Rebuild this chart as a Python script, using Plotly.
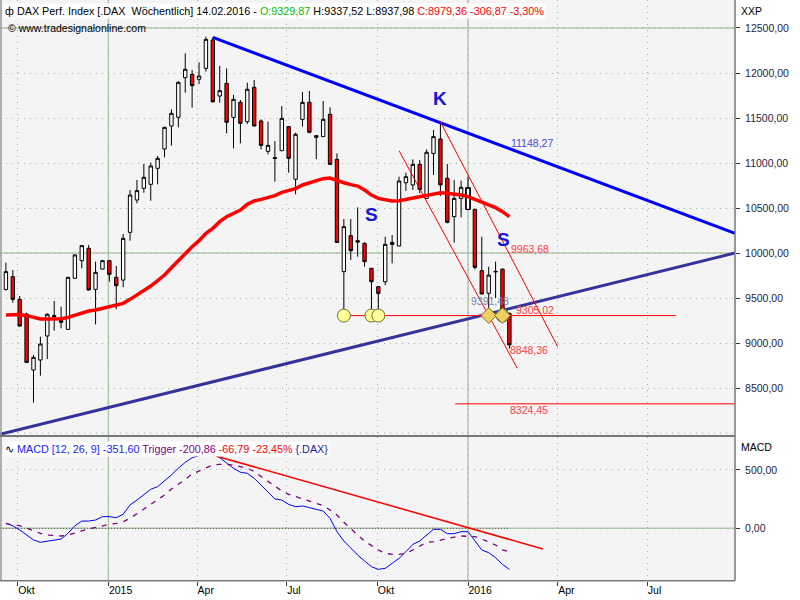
import plotly.graph_objects as go
import pandas as pd

# ---------------- data ----------------
dates = pd.date_range("2014-09-19", periods=74, freq="W-FRI")

open_ = [9596, 9737, 9485, 9322, 8700, 8811, 9078, 9305, 9249, 9152,
         9719, 9915, 10052, 9596, 9822, 9915, 9730, 9700, 10230, 10589,
         10719, 10763, 10941, 11156, 11411, 11508, 11948, 11985, 11930, 12052,
         12367, 11744, 11885, 11507, 11674, 11459, 11841, 11467, 11130, 11060,
         11137, 11404, 10819, 11485, 11674, 11285, 11293, 11541, 11041, 9793,
         10193, 10137, 10107, 9830, 9626, 9681, 10118, 10078, 10781, 10756,
         10985, 10607, 11107, 11267, 10830, 10404, 10607, 10485, 10485, 9804,
         9552, 9796, 9822, 9329.87]
high = [9893, 9811, 9522, 9337, 8867, 9070, 9330, 9467, 9404, 9735,
        9989, 10089, 10089, 9904, 9922, 9920, 9856, 10211, 10700, 10811,
        10989, 11004, 11078, 11404, 11596, 11911, 12218, 12033, 12119, 12404,
        12396, 12078, 12052, 11756, 11700, 11893, 11922, 11485, 11459, 11244,
        11633, 11410, 11337, 11789, 11800, 11306, 11689, 11618, 11107, 10378,
        10378, 10507, 10120, 9835, 9630, 10181, 10200, 10848, 10893, 11041,
        11033, 11152, 11367, 11441, 10989, 10811, 10804, 10848, 10490, 10181,
        9848, 9904, 9822, 9337.52]
low = [9582, 9448, 9181, 8780, 8337, 8637, 8822, 9137, 9163, 9148,
       9715, 9830, 9585, 9207, 9818, 9682, 9374, 9619, 10137, 10552,
       10670, 10581, 10763, 11063, 11193, 11396, 11781, 11615, 11878, 12015,
       11670, 11670, 11330, 11163, 11219, 11433, 11405, 11152, 11096, 10793,
       11135, 10893, 10652, 11404, 11330, 11044, 11290, 10980, 10115, 9330,
       9922, 9959, 9848, 9367, 9330, 9644, 9885, 10075, 10689, 10700,
       10663, 10600, 10867, 10633, 10330, 10115, 10396, 10480, 9818, 9540,
       9330, 9500, 9274, 8937.98]
close = [9793, 9485, 9189, 8785, 8841, 8989, 9319, 9294, 9230, 9730,
         9978, 10082, 9589, 9785, 9915, 9763, 9637, 10163, 10644, 10693,
         10841, 10967, 11052, 11396, 11552, 11896, 12041, 11859, 11967, 12374,
         11681, 11804, 11452, 11707, 11441, 11819, 11411, 11196, 11196, 11050,
         11496, 11052, 11319, 11674, 11341, 11304, 11485, 10985, 10118, 10293,
         10026, 10122, 9904, 9681, 9552, 10096, 10096, 10800, 10848, 10985,
         10707, 11119, 11293, 10756, 10341, 10607, 10730, 10726, 9841, 9545,
         9755, 9792, 9367, 8979.36]
highlight_index = 67

ma_values = [9311, 9318, 9318, 9304, 9285, 9267, 9267, 9267, 9270, 9285,
             9311, 9337, 9356, 9367, 9385, 9404, 9419, 9441, 9485, 9533,
             9582, 9633, 9693, 9756, 9837, 9915, 9996, 10070, 10137, 10219,
             10274, 10348, 10404, 10441, 10478, 10541, 10578, 10596, 10615, 10637,
             10674, 10693, 10715, 10756, 10781, 10804, 10826, 10833, 10804, 10781,
             10760, 10744, 10700, 10644, 10607, 10589, 10578, 10581, 10596, 10607,
             10619, 10633, 10656, 10670, 10663, 10656, 10644, 10626, 10596, 10559,
             10533, 10504, 10459, 10404]

macd = [42, 22, -15, -58, -100, -120, -109, -100, -92, -43,
        22, 62, 62, 71, 100, 100, 91, 120, 200, 242,
        285, 334, 357, 405, 457, 514, 565, 605, 622, 651,
        634, 605, 557, 514, 480, 471, 428, 371, 308, 251,
        242, 205, 185, 191, 177, 165, 148, 85, -29, -109,
        -172, -229, -280, -329, -352, -343, -300, -258, -200, -138,
        -109, -58, -9, -9, -46, -46, -29, -29, -109, -186,
        -209, -252, -309, -351.60]
trigger = [42, 28, 22, 0, -23, -43, -58, -63, -66, -58,
           -43, -23, -6, 8, 22, 34, 42, 57, 85, 122,
           165, 205, 248, 285, 337, 377, 419, 465, 491, 514,
           542, 548, 548, 542, 528, 514, 485, 442, 405, 357,
           320, 291, 271, 251, 228, 214, 194, 157, 114, 51,
           -6, -58, -109, -149, -186, -215, -223, -223, -215, -186,
           -152, -120, -115, -100, -86, -75, -66, -66, -72, -92,
           -115, -143, -186, -200.86]

# trend lines (date, value endpoints)
resist_dates = ["2015-04-17", "2016-09-28"]
resist_values = [12396, 10219]
support_dates = ["2014-09-13", "2016-09-28"]
support_values = [7986, 10000]
chan_up_dates = ["2015-12-04", "2016-04-01"]
chan_up_values = [11456, 8959]
chan_lo_dates = ["2015-10-23", "2016-02-20"]
chan_lo_values = [11137, 8719]
level_9305_dates = ["2015-08-28", "2016-07-30"]
level_9305 = 9305.02
level_8324_dates = ["2015-12-19", "2016-09-28"]
level_8324 = 8324.45
macd_trend_dates = ["2015-04-20", "2016-03-17"]
macd_trend_values = [620, -177]

circle_dates = ["2015-08-28", "2015-09-25", "2015-10-02", "2016-02-05"]
diamond_dates = ["2016-01-22", "2016-02-05"]

price_ticks = [8500, 9000, 9500, 10000, 10500, 11000, 11500, 12000, 12500]
price_ticktext = ["8500,00", "9000,00", "9500,00", "10000,00", "10500,00",
                  "11000,00", "11500,00", "12000,00", "12500,00"]
macd_ticks = [0, 500]
macd_ticktext = ["0,00", "500,00"]
month_ticks = ["2014-10-01", "2015-01-01", "2015-04-01", "2015-07-01",
               "2015-10-01", "2016-01-01", "2016-04-01", "2016-07-01"]
month_labels = ["Okt", "2015", "Apr", "Jul", "Okt", "2016", "Apr", "Jul"]
year_lines = ["2015-01-01", "2016-01-01"]

x_range = ["2014-09-13", "2016-09-28"]
y_range = [7956, 12811]
macd_range = [-449, 782]

# ---------------- figure ----------------
W, H = 800, 600
px_x = lambda p: p / W
px_y = lambda p: 1 - p / H
XR = 735 / W
MAIN = [px_y(437), 1]
SUB = [px_y(580.7), px_y(437)]
FONT = "Liberation Sans, Arial, sans-serif"
GRID = "#9db39d"
SOLID = "#b3c9ab"
WEEK_MS = 7 * 24 * 3600 * 1000

fig = go.Figure()

fig.add_trace(go.Candlestick(
    x=dates, open=open_, high=high, low=low, close=close,
    xaxis="x", yaxis="y", whiskerwidth=0, showlegend=False, hoverinfo="skip",
    increasing=dict(line=dict(color="black", width=1), fillcolor="white"),
    decreasing=dict(line=dict(color="black", width=1), fillcolor="#ff0000")))

# highlighted (yellow) candle body
i = highlight_index
fig.add_trace(go.Bar(
    x=[dates[i]], base=[min(open_[i], close[i])], y=[abs(close[i] - open_[i])],
    width=[WEEK_MS * 0.7], xaxis="x", yaxis="y", showlegend=False, hoverinfo="skip",
    marker=dict(color="#f7ec80", line=dict(color="black", width=1))))

fig.add_trace(go.Scatter(x=dates, y=ma_values, mode="lines", xaxis="x", yaxis="y",
                         line=dict(color="#ff0000", width=3.5), showlegend=False))

def line(xs, ys, color, width, yaxis="y", dash="solid"):
    fig.add_trace(go.Scatter(x=xs, y=ys, mode="lines", xaxis="x" if yaxis == "y" else "x2",
                             yaxis=yaxis, line=dict(color=color, width=width, dash=dash),
                             showlegend=False, hoverinfo="skip"))

line(resist_dates, resist_values, "#0000ff", 3)
line(support_dates, support_values, "#33339a", 3)
line(chan_up_dates, chan_up_values, "#ff0000", 1)
line(chan_lo_dates, chan_lo_values, "#ff0000", 1)
line(level_9305_dates, [level_9305] * 2, "#ff0000", 1)
line(level_8324_dates, [level_8324] * 2, "#ff0000", 1)

fig.add_trace(go.Scatter(x=circle_dates, y=[level_9305] * len(circle_dates), mode="markers",
                         xaxis="x", yaxis="y", showlegend=False,
                         marker=dict(symbol="circle", size=13, color="#ffff99",
                                     line=dict(color="#707030", width=1))))
fig.add_trace(go.Scatter(x=diamond_dates, y=[level_9305] * len(diamond_dates), mode="markers",
                         xaxis="x", yaxis="y", showlegend=False,
                         marker=dict(symbol="diamond", size=12, color="#f0d060",
                                     line=dict(color="#807030", width=1))))

# MACD panel
line([x_range[0], dates[-1]], [0, 0], "#555555", 1, yaxis="y2", dash="1px,2px")
fig.add_trace(go.Scatter(x=dates, y=macd, mode="lines", xaxis="x2", yaxis="y2",
                         line=dict(color="#0000ff", width=1), showlegend=False))
fig.add_trace(go.Scatter(x=dates, y=trigger, mode="lines", xaxis="x2", yaxis="y2",
                         line=dict(color="#800080", width=1.3, dash="5px,6px"), showlegend=False))
line(macd_trend_dates, macd_trend_values, "#ff0000", 1.5, yaxis="y2")

shapes = []
# solid grid lines
for d in year_lines:
    shapes.append(dict(type="line", xref="x", yref="paper", x0=d, x1=d, y0=SUB[0], y1=1,
                       line=dict(color=SOLID, width=1.5), layer="below"))
for v in [10000, 12500]:
    shapes.append(dict(type="line", xref="paper", yref="y", x0=0, x1=XR, y0=v, y1=v,
                       line=dict(color=SOLID, width=1.5), layer="below"))
shapes.append(dict(type="line", xref="paper", yref="y", x0=0, x1=XR, y0=8000, y1=8000,
                   line=dict(color=GRID, width=1, dash="1px,5px"), layer="below"))
shapes.append(dict(type="line", xref="paper", yref="y2", x0=0, x1=XR, y0=0, y1=0,
                   line=dict(color=SOLID, width=1.5), layer="below"))
# borders
border = "#777777"
shapes.append(dict(type="line", xref="paper", yref="paper", x0=px_x(1), x1=px_x(1), y0=SUB[0], y1=1,
                   line=dict(color="#999999", width=1.5)))
shapes.append(dict(type="line", xref="paper", yref="paper", x0=0, x1=XR, y0=px_y(436), y1=px_y(436),
                   line=dict(color=border, width=2)))
shapes.append(dict(type="line", xref="paper", yref="paper", x0=0, x1=XR, y0=SUB[0], y1=SUB[0],
                   line=dict(color=border, width=1.5)))
shapes.append(dict(type="line", xref="paper", yref="paper", x0=XR, x1=XR, y0=SUB[0], y1=1,
                   line=dict(color=border, width=1.5)))

ann = []
def text(x, y, t, color="black", size=10.5, anchor="left", bold=False, bg=None):
    d = dict(x=px_x(x), y=px_y(y), xref="paper", yref="paper", text=("<b>%s</b>" % t) if bold else t,
             showarrow=False, xanchor=anchor, yanchor="middle",
             font=dict(family=FONT, size=size, color=color))
    if bg:
        d["bgcolor"] = bg
        d["borderpad"] = 1
    ann.append(d)

title = ('ф DAX Perf. Index [.DAX  Wöchentlich] 14.02.2016 - '
         '<span style="color:#00c000">O:9329,87</span> H:9337,52 L:8937,98 '
         '<span style="color:#ff0000">C:8979,36 -306,87 -3,30%</span>')
text(3, 11, title, bg="white", size=10.8)
text(6, 28, "© www.tradesignalonline.com", size=10.5)
macd_title = ('∿ <span style="color:#1a1aff">MACD [12, 26, 9] -351,60</span> '
              '<span style="color:#800080">Trigger -200,86</span> '
              '<span style="color:#ff0000">-66,79 -23,45%</span> '
              '<span style="color:#1a1a9a">{.DAX}</span>')
text(3, 449, macd_title, bg="white", size=10.8)
text(739, 11, "XXP")
text(739, 447, "MACD")

text(440, 98, "K", color="#1515d5", size=19, anchor="center", bold=True)
text(371, 214, "S", color="#1515d5", size=19, anchor="center", bold=True)
text(503, 239, "S", color="#1515d5", size=19, anchor="center", bold=True)

text(509, 143, "11148,27", color="#4a4ad0")
text(509, 249, "9963,68", color="#ff4040")
text(469, 301, "9391,48", color="#7585b8")
text(514, 310, "9305,02", color="#ff4040")
text(508, 350, "8848,36", color="#ff4040")
text(508, 410, "8324,45", color="#ff4040")

axis_common = dict(type="date", range=x_range, tickvals=month_ticks, showgrid=True,
                   gridcolor=GRID, griddash="1px,5px", gridwidth=1, zeroline=False,
                   showline=False, domain=[0, XR], fixedrange=True)

fig.update_layout(
    width=W, height=H, margin=dict(l=0, r=0, t=0, b=0),
    paper_bgcolor="white", plot_bgcolor="#f4f4f4",
    font=dict(family=FONT, size=10.5, color="black"),
    showlegend=False, shapes=shapes, annotations=ann, barmode="overlay",
    xaxis=dict(**axis_common, anchor="y", showticklabels=False, ticks="",
               rangeslider=dict(visible=False)),
    xaxis2=dict(**axis_common, anchor="y2", matches="x", ticktext=month_labels,
                showticklabels=True, ticks="outside", ticklen=4, tickcolor="#333333",
                ticklabelposition="outside right", tickfont=dict(size=10.5, color="black")),
    yaxis=dict(domain=MAIN, anchor="x", side="right", range=y_range, tickvals=price_ticks,
               ticktext=price_ticktext, ticks="outside", ticklen=4, tickcolor="#333333",
               ticklabelstandoff=3,
               showgrid=True, gridcolor=GRID, griddash="1px,5px", zeroline=False,
               tickfont=dict(size=10.5, color="#1e1e40"), fixedrange=True),
    yaxis2=dict(domain=SUB, anchor="x2", side="right", range=macd_range, tickvals=macd_ticks,
                ticktext=macd_ticktext, ticks="outside", ticklen=4, tickcolor="#333333",
                ticklabelstandoff=3,
                showgrid=True, gridcolor=GRID, griddash="1px,5px", zeroline=False,
                tickfont=dict(size=10.5, color="#1e1e40"), fixedrange=True),
)

fig.write_html("out.html", config={"displayModeBar": False},
               post_script="document.body.style.margin='0';document.body.style.overflow='hidden';")
